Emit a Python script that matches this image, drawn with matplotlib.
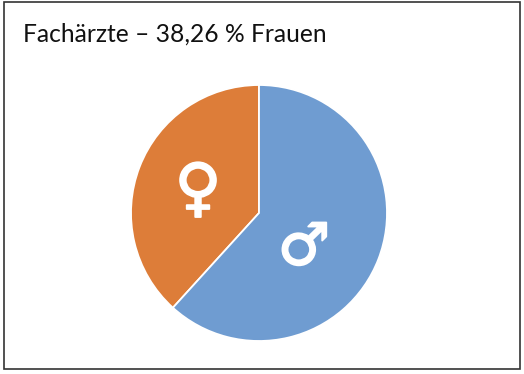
import matplotlib
matplotlib.use("Agg")
import matplotlib.pyplot as plt
import matplotlib.patheffects as pe
from matplotlib.patches import Rectangle

title = "Fachärzte – 38,26 % Frauen"
shares = [38.26, 61.74]
colors = ["#DD7D39", "#6F9CD1"]
symbols = ["♀", "♂"]

W, H = 524, 374
fig = plt.figure(figsize=(W / 100, H / 100), dpi=100, facecolor="white")
ax = fig.add_axes([0, 0, 1, 1])
ax.pie(shares, colors=colors, startangle=90, counterclock=True,
       center=(259, H - 213), radius=128, frame=True,
       wedgeprops=dict(edgecolor="white", linewidth=1.3))
ax.set_xlim(0, W)
ax.set_ylim(0, H)
ax.set_aspect("equal")
ax.axis("off")
ax.add_patch(Rectangle((3.5, H - 369), 516.5, 367, fill=False, edgecolor="#333333", linewidth=1.2))
ax.text(23, H - 34, title, fontsize=17.75, family="Lato", color="#111111", ha="left", va="center")
stroke = [pe.withStroke(linewidth=1.3, foreground="white")]
ax.text(198, H - 191, symbols[0], fontsize=46, family="DejaVu Sans", color="white",
        ha="center", va="center", path_effects=stroke)
ax.text(304, H - 248, symbols[1], fontsize=42, family="DejaVu Sans", color="white",
        ha="center", va="center", path_effects=stroke)
fig.savefig("out.png", dpi=100, facecolor="white")
